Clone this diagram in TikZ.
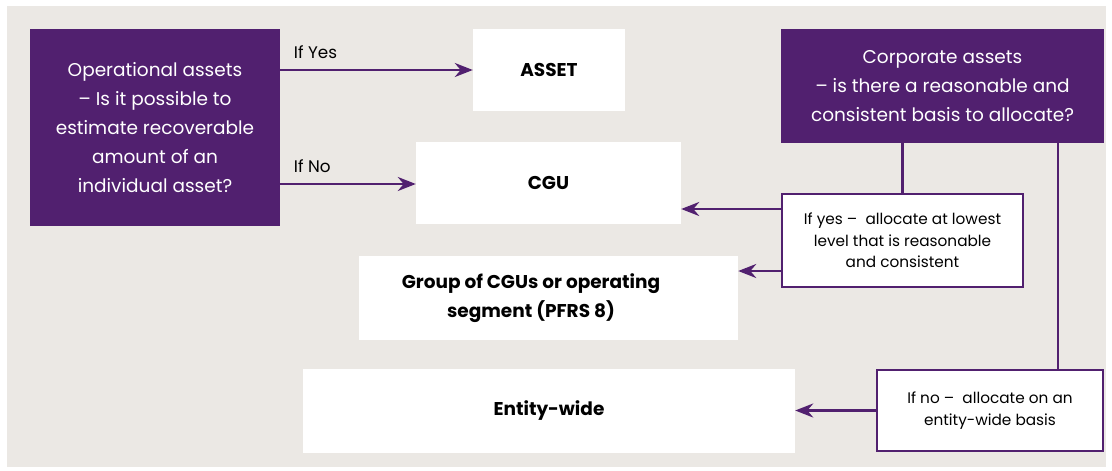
\documentclass[tikz,border=0pt]{standalone}
\usepackage{fontspec}
\setmainfont{Poppins}
\usepackage{tikz}
\usetikzlibrary{positioning}
\usetikzlibrary{arrows.meta}

\definecolor{gtpurple}{HTML}{51206F}
\definecolor{bgbeige}{HTML}{EBE8E4}

\tikzset{
  purplebox/.style={fill=gtpurple,text=white,font=\fontsize{18.5}{29}\selectfont},
  whitebox/.style={fill=white,font=\bfseries\fontsize{18.5}{29}\selectfont},
  notebox/.style={draw=gtpurple,line width=2pt,fill=white,font=\fontsize{15.3}{21.5}\selectfont},
  lbl/.style={font=\fontsize{16.8}{18}\selectfont}
}

\begin{document}
\begin{tikzpicture}[x=1pt,y=-1pt]
        \useasboundingbox (0,0) rectangle (1112,471);
        \fill[bgbeige] (7,6) rectangle (1106,467);

        \begin{scope}[every node/.style={inner sep=0pt,align=center}]
            \node[purplebox,minimum width=250,minimum height=197] (oper) at (155,127.5)
                {Operational assets\\– Is it possible to\\estimate recoverable\\amount of an\\individual asset?};
            \node[purplebox,minimum width=323,minimum height=114] (corp) at (942.5,86)
                {Corporate assets\\– is there a reasonable and\\consistent basis to allocate?};
            \node[whitebox,minimum width=152,minimum height=82] (asset) at (549,70) {ASSET};
            \node[whitebox,minimum width=265,minimum height=82] (cgu) at (548.5,183) {CGU};
            \node[whitebox,minimum width=379,minimum height=84] (group) at (548.5,298) {};
            \node[whitebox] (grouptext) at (531,298) {Group of CGUs or operating\\segment (PFRS 8)};
            \node[whitebox,minimum width=492,minimum height=84] (entity) at (549,411) {Entity-wide};
            \node[notebox,minimum width=241,minimum height=93] (yes) at (902.5,240.5)
                {If yes –\ \ allocate at lowest\\level that is reasonable\\and consistent};
            \node[notebox,minimum width=226,minimum height=81] (no) at (990,410.5)
                {If no –\ \ allocate on an\\entity-wide basis};
        \end{scope}

        \begin{scope}[>={Stealth[gtpurple,length=18pt,width=14pt]},
            every node/.style={lbl,anchor=base west,pos=0},
            every edge/.style={draw=gtpurple,line width=2.7pt}]
            \path [->] (oper.east |- asset.west) edge node[xshift=9pt,yshift=12pt] {If Yes} (asset.west);
            \path [->] (oper.east |- 0,184) edge node[xshift=9pt,yshift=12pt] {If No} (cgu.west |- 0,184);
            \path (corp.south -| yes.north) edge (yes.north);
            \path (corp.south -| 1058,0) edge (no.north -| 1058,0);
            \path [->] (yes.west |- 0,209) edge (cgu.east |- 0,209);
            \path [->] (yes.west |- 0,271) edge (group.east |- 0,271);
            \path [->] (no.west) edge (entity.east |- no.west);
        \end{scope}
    \end{tikzpicture}
\end{document}
